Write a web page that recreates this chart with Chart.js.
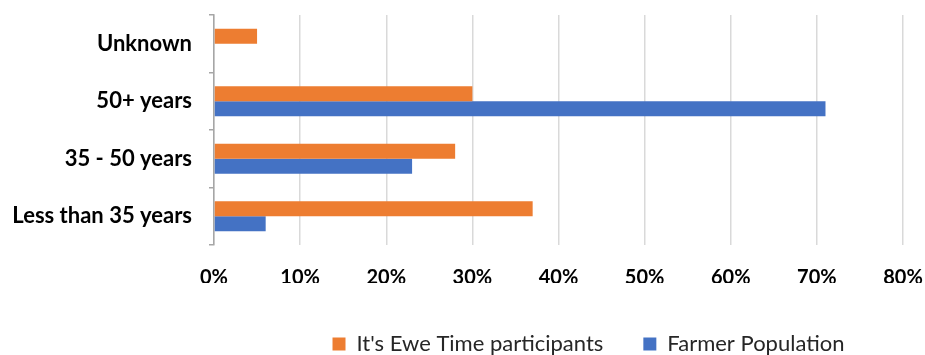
<!DOCTYPE html>
<html>
<head>
<meta charset="utf-8">
<script src="https://cdn.jsdelivr.net/npm/chart.js@4.4.1/dist/chart.umd.min.js"></script>
<style>
    html, body { margin: 0; padding: 0; background: #ffffff; }
    #wrap { width: 925px; height: 355px; position: relative; }
</style>
</head>
<body>
<div id="wrap"><canvas id="ageChart"></canvas></div>
<script>
// ====================================================
// Age groups: programme participants vs farmer population
// ====================================================
const ageGroups = ['Unknown', '50+ years', '35 - 50 years', 'Less than 35 years'];
const participantShare = [5, 30, 28, 37];     // % of It's Ewe Time participants
const farmerShare = [null, 71, 23, 6];        // % of farmer population
const xTicks = [0, 10, 20, 30, 40, 50, 60, 70, 80];

const ORANGE = '#ED7D31';
const BLUE = '#4472C4';
const FONT = 'Lato, "Open Sans", sans-serif';

// Nudge the legend box after layout (it sits off-centre, lower than default)
const legendOffset = {
    id: 'legendOffset',
    afterLayout(chart, args, opts) {
        const lg = chart.legend;
        if (!lg) return;
        lg.left += opts.dx; lg.right += opts.dx;
        lg.top += opts.dy; lg.bottom += opts.dy;
    }
};

function initializeChart() {
    const ctx = document.getElementById('ageChart');

    new Chart(ctx, {
        type: 'bar',
        data: {
            labels: ageGroups,
            datasets: [{
                label: "It's Ewe Time participants",
                data: participantShare,
                backgroundColor: ORANGE,
                categoryPercentage: 0.52,
                barPercentage: 1.0
            }, {
                label: 'Farmer Population',
                data: farmerShare,
                backgroundColor: BLUE,
                categoryPercentage: 0.52,
                barPercentage: 1.0
            }]
        },
        plugins: [legendOffset],
        options: {
            indexAxis: 'y',
            responsive: true,
            maintainAspectRatio: false,
            animation: false,
            layout: {
                padding: { top: 15, right: 22, left: 0, bottom: 0 }
            },
            plugins: {
                tooltip: { enabled: false },
                legendOffset: { dx: 30, dy: 10 },
                legend: {
                    position: 'bottom',
                    fullSize: false,
                    labels: {
                        color: '#262626',
                        font: { family: FONT, size: 22 },
                        boxWidth: 13,
                        boxHeight: 13,
                        padding: 40
                    }
                }
            },
            scales: {
                x: {
                    min: 0,
                    max: 80,
                    afterBuildTicks: (scale) => {
                        scale.ticks = xTicks.map(v => ({ value: v }));
                    },
                    afterFit: (scale) => {
                        scale.height = 38;
                        scale.paddingLeft = 0;
                        scale.paddingRight = 0;
                    },
                    ticks: {
                        color: '#000000',
                        font: { family: FONT, size: 20, weight: 'bold' },
                        padding: 21,
                        maxRotation: 0,
                        callback: (v) => v + '%'
                    },
                    grid: {
                        color: '#d9d9d9',
                        lineWidth: 1.5,
                        drawTicks: false
                    },
                    border: { display: false }
                },
                y: {
                    afterFit: (scale) => {
                        scale.width = 214;
                        scale.paddingTop = 0;
                        scale.paddingBottom = 0;
                    },
                    ticks: {
                        color: '#000000',
                        font: { family: FONT, size: 22, weight: 'bold' },
                        padding: 17
                    },
                    grid: {
                        drawOnChartArea: false,
                        color: '#a6a6a6',
                        lineWidth: 1.5,
                        tickLength: 5
                    },
                    border: { color: '#a6a6a6', width: 1.5 }
                }
            }
        }
    });
}

document.addEventListener('DOMContentLoaded', initializeChart);
</script>
</body>
</html>
